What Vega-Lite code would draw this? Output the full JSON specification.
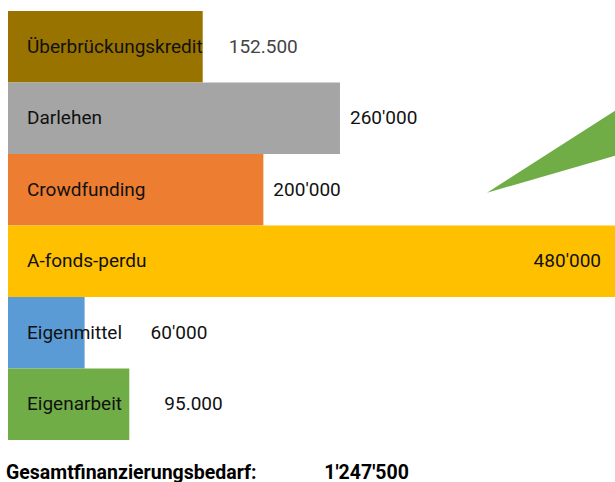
{
  "$schema": "https://vega.github.io/schema/vega-lite/v6.json",
  "autosize": "none",
  "width": 607,
  "height": 429,
  "padding": {"left": 8, "top": 11, "right": 0, "bottom": 42},
  "background": "white",
  "config": {
    "view": {"stroke": null},
    "font": "Roboto"
  },
  "title": {
    "text": "Gesamtfinanzierungsbedarf:\u00a0\u00a0\u00a0\u00a0\u00a0\u00a0\u00a0\u00a0\u00a0\u00a0\u00a0\u00a0\u00a0\u00a01'247'500",
    "orient": "bottom",
    "anchor": "start",
    "frame": "group",
    "font": "Roboto",
    "fontSize": 19.5,
    "fontWeight": "bold",
    "color": "#000",
    "offset": 24,
    "dx": -2
  },
  "data": {
    "values": [
      {"cat": "Überbrückungskredit", "value": 152500, "label": "152.500"},
      {"cat": "Darlehen", "value": 260000, "label": "260'000"},
      {"cat": "Crowdfunding", "value": 200000, "label": "200'000"},
      {"cat": "A-fonds-perdu", "value": 480000, "label": "480'000"},
      {"cat": "Eigenmittel", "value": 60000, "label": "60'000"},
      {"cat": "Eigenarbeit", "value": 95000, "label": "95.000"}
    ]
  },
  "encoding": {
    "y": {"field": "cat", "type": "nominal", "sort": null, "axis": null,
          "scale": {"paddingInner": 0, "paddingOuter": 0}}
  },
  "layer": [
    {
      "mark": {"type": "bar"},
      "encoding": {
        "x": {"field": "value", "type": "quantitative", "axis": null,
              "scale": {"domain": [0, 475400], "clamp": true, "nice": false}},
        "color": {"field": "cat", "type": "nominal", "legend": null,
                  "scale": {"domain": ["Überbrückungskredit", "Darlehen", "Crowdfunding", "A-fonds-perdu", "Eigenmittel", "Eigenarbeit"],
                            "range": ["#997300", "#A5A5A5", "#ED7D31", "#FFC000", "#5B9BD5", "#70AD47"]}}
      }
    },
    {
      "mark": {"type": "text", "align": "left", "baseline": "middle", "dx": 19, "fontSize": 19, "color": "#111"},
      "encoding": {
        "x": {"datum": 0, "type": "quantitative"},
        "text": {"field": "cat"}
      }
    },
    {
      "transform": [{"filter": "datum.cat == 'Darlehen' || datum.cat == 'Crowdfunding'"}],
      "mark": {"type": "text", "align": "left", "baseline": "middle", "dx": 10, "fontSize": 19, "color": "#111"},
      "encoding": {"x": {"field": "value", "type": "quantitative"}, "text": {"field": "label"}}
    },
    {
      "transform": [{"filter": "datum.cat == 'Überbrückungskredit'"}],
      "mark": {"type": "text", "align": "left", "baseline": "middle", "dx": 26, "fontSize": 19, "color": "#444"},
      "encoding": {"x": {"field": "value", "type": "quantitative"}, "text": {"field": "label"}}
    },
    {
      "transform": [{"filter": "datum.cat == 'Eigenmittel'"}],
      "mark": {"type": "text", "align": "left", "baseline": "middle", "dx": 66, "fontSize": 19, "color": "#111"},
      "encoding": {"x": {"field": "value", "type": "quantitative"}, "text": {"field": "label"}}
    },
    {
      "transform": [{"filter": "datum.cat == 'Eigenarbeit'"}],
      "mark": {"type": "text", "align": "left", "baseline": "middle", "dx": 35, "fontSize": 19, "color": "#111"},
      "encoding": {"x": {"field": "value", "type": "quantitative"}, "text": {"field": "label"}}
    },
    {
      "transform": [{"filter": "datum.cat == 'A-fonds-perdu'"}],
      "mark": {"type": "text", "align": "right", "baseline": "middle", "dx": -14, "fontSize": 19, "color": "#111"},
      "encoding": {"x": {"field": "value", "type": "quantitative"}, "text": {"field": "label"}}
    },
    {
      "data": {"values": [{"item": "wedge"}]},
      "mark": {"type": "point", "filled": true, "opacity": 1, "color": "#70AD47",
               "shape": "M-1,0.0234L0,-0.617L0,-0.266Z", "size": 65536, "strokeWidth": 0},
      "encoding": {
        "x": {"datum": 475400, "type": "quantitative"},
        "y": {"datum": "Crowdfunding"}
      }
    }
  ]
}
